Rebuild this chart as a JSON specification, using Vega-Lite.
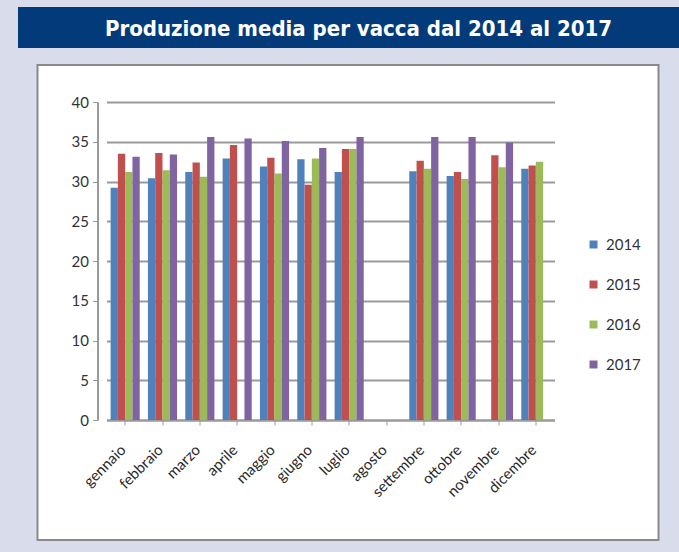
{
  "$schema": "https://vega.github.io/schema/vega-lite/v6.json",
  "background": "#d9dcea",
  "padding": {"left": 18, "top": 7, "right": 0, "bottom": 13},
  "spacing": 16,
  "center": true,
  "config": {
    "font": "Lato",
    "axis": {"labelFont": "Lato", "labelColor": "#333333"},
    "legend": {"labelFont": "Lato"}
  },
  "vconcat": [
    {
      "width": 661,
      "height": 41,
      "view": {"fill": "#033b7a", "stroke": null},
      "data": {"values": [{"t": "Produzione media per vacca dal 2014 al 2017"}]},
      "mark": {"type": "text", "font": "Liberation Sans Narrow, DejaVu Sans Condensed, Roboto", "fontWeight": "bold", "fontSize": 22, "color": "white", "dx": 10, "dy": 1},
      "encoding": {"text": {"field": "t"}}
    },
    {
      "width": 621,
      "height": 475,
      "view": {"fill": "white", "stroke": "#8a8a8a", "strokeWidth": 2},
      "data": {"values": [
        {"mese": "gennaio", "anno": "2014", "v": 29.2},
        {"mese": "gennaio", "anno": "2015", "v": 33.5},
        {"mese": "gennaio", "anno": "2016", "v": 31.2},
        {"mese": "gennaio", "anno": "2017", "v": 33.1},
        {"mese": "febbraio", "anno": "2014", "v": 30.4},
        {"mese": "febbraio", "anno": "2015", "v": 33.6},
        {"mese": "febbraio", "anno": "2016", "v": 31.4},
        {"mese": "febbraio", "anno": "2017", "v": 33.4},
        {"mese": "marzo", "anno": "2014", "v": 31.2},
        {"mese": "marzo", "anno": "2015", "v": 32.4},
        {"mese": "marzo", "anno": "2016", "v": 30.6},
        {"mese": "marzo", "anno": "2017", "v": 35.6},
        {"mese": "aprile", "anno": "2014", "v": 32.9},
        {"mese": "aprile", "anno": "2015", "v": 34.6},
        {"mese": "aprile", "anno": "2017", "v": 35.4},
        {"mese": "maggio", "anno": "2014", "v": 31.9},
        {"mese": "maggio", "anno": "2015", "v": 33.0},
        {"mese": "maggio", "anno": "2016", "v": 31.0},
        {"mese": "maggio", "anno": "2017", "v": 35.1},
        {"mese": "giugno", "anno": "2014", "v": 32.8},
        {"mese": "giugno", "anno": "2015", "v": 29.6},
        {"mese": "giugno", "anno": "2016", "v": 32.9},
        {"mese": "giugno", "anno": "2017", "v": 34.2},
        {"mese": "luglio", "anno": "2014", "v": 31.2},
        {"mese": "luglio", "anno": "2015", "v": 34.1},
        {"mese": "luglio", "anno": "2016", "v": 34.1},
        {"mese": "luglio", "anno": "2017", "v": 35.6},
        {"mese": "settembre", "anno": "2014", "v": 31.3},
        {"mese": "settembre", "anno": "2015", "v": 32.6},
        {"mese": "settembre", "anno": "2016", "v": 31.6},
        {"mese": "settembre", "anno": "2017", "v": 35.6},
        {"mese": "ottobre", "anno": "2014", "v": 30.7},
        {"mese": "ottobre", "anno": "2015", "v": 31.2},
        {"mese": "ottobre", "anno": "2016", "v": 30.3},
        {"mese": "ottobre", "anno": "2017", "v": 35.6},
        {"mese": "novembre", "anno": "2015", "v": 33.3},
        {"mese": "novembre", "anno": "2016", "v": 31.8},
        {"mese": "novembre", "anno": "2017", "v": 34.9},
        {"mese": "dicembre", "anno": "2014", "v": 31.6},
        {"mese": "dicembre", "anno": "2015", "v": 32.0},
        {"mese": "dicembre", "anno": "2016", "v": 32.5}
      ]},
      "mark": {"type": "bar"},
      "encoding": {
        "x": {
          "field": "mese",
          "type": "nominal",
          "sort": null,
          "scale": {
            "domain": ["gennaio", "febbraio", "marzo", "aprile", "maggio", "giugno", "luglio", "agosto", "settembre", "ottobre", "novembre", "dicembre"],
            "range": [69, 517],
            "paddingInner": 0.22,
            "paddingOuter": 0.11
          },
          "axis": {
            "title": null,
            "offset": -120,
            "labelAngle": -45,
            "labelAlign": "right",
            "labelBaseline": "middle",
            "labelFontSize": 15,
            "labelColor": "#2a2a2a",
            "labelPadding": 22,
            "labelOffset": -2,
            "domainColor": "#999999",
            "domainWidth": 2,
            "tickColor": "#999999",
            "tickSize": 5,
            "grid": false
          }
        },
        "xOffset": {"field": "anno", "type": "nominal", "scale": {"paddingInner": 0, "paddingOuter": 0}},
        "y": {
          "field": "v",
          "type": "quantitative",
          "scale": {"domain": [0, 40], "range": [355, 37], "nice": false},
          "axis": {
            "title": null,
            "offset": -60,
            "values": [0, 5, 10, 15, 20, 25, 30, 35, 40],
            "labelFontSize": 15,
            "labelPadding": 4,
            "domainColor": "#999999",
            "domainWidth": 2,
            "tickColor": "#999999",
            "tickSize": 5,
            "grid": true,
            "gridColor": "#9a9a9a",
            "gridWidth": 2
          }
        },
        "color": {
          "field": "anno",
          "type": "nominal",
          "scale": {"domain": ["2014", "2015", "2016", "2017"], "range": ["#4f81bd", "#c0504d", "#9bbb59", "#8064a2"]},
          "legend": {
            "title": null,
            "orient": "none",
            "legendX": 568,
            "legendY": 230,
            "symbolType": "square",
            "symbolSize": 64,
            "symbolStrokeWidth": 0,
            "labelFontSize": 15,
            "labelColor": "#333333",
            "labelOffset": 5,
            "rowPadding": 24
          }
        }
      }
    }
  ]
}
